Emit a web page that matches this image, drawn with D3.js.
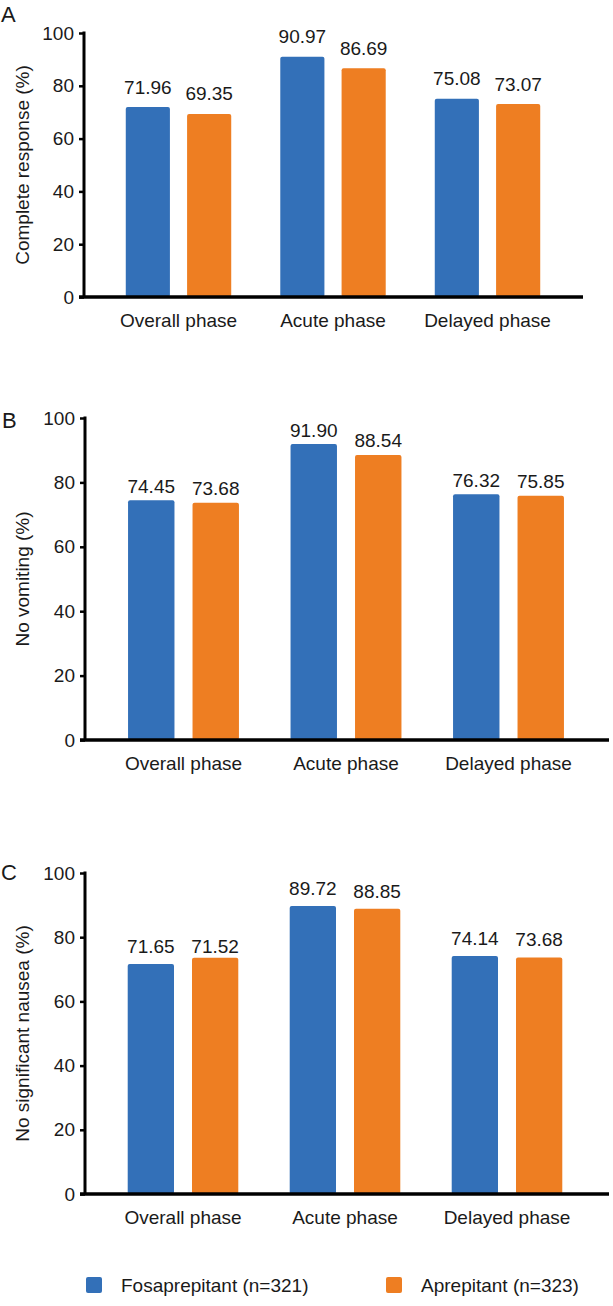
<!DOCTYPE html>
<html>
<head>
<meta charset="utf-8">
<script src="https://cdn.jsdelivr.net/npm/d3@7"></script>
<style>
  html, body { margin: 0; padding: 0; background: #fff; }
  svg { display: block; }
  text { font-family: "Liberation Sans", Arial, Helvetica, sans-serif; fill: #1a1a1a; }
</style>
</head>
<body>
<svg id="chart" width="613" height="1306"></svg>
<script>
// ---- data ----
const categories = ["Overall phase", "Acute phase", "Delayed phase"];
const seriesNames = ["Fosaprepitant (n=321)", "Aprepitant (n=323)"];
const yTicks = [0, 20, 40, 60, 80, 100];

// Panel A: complete response (%)
const crFosaprepitant = [71.96, 90.97, 75.08];
const crAprepitant = [69.35, 86.69, 73.07];
// Panel B: no vomiting (%)
const nvFosaprepitant = [74.45, 91.90, 76.32];
const nvAprepitant = [73.68, 88.54, 75.85];
// Panel C: no significant nausea (%) — bar heights as drawn, and printed labels
const nnFosaprepitant = [71.65, 89.72, 74.14];
const nnAprepitant = [73.6, 88.85, 73.68];
const nnFosaprepitantLabels = ["71.65", "89.72", "74.14"];
const nnAprepitantLabels = ["71.52", "88.85", "73.68"];

const colors = ["#3370b8", "#ee7e22"];

const panels = [
  { letter: "A", title: "Complete response (%)", values: [crFosaprepitant, crAprepitant],
    labels: [crFosaprepitant.map(v => v.toFixed(2)), crAprepitant.map(v => v.toFixed(2))],
    top: 33, bottom: 297, axisX: 84, xEnd: 583, groupRange: [101.25, 564.75], labelOff: 13.5,
    letterPos: [1, 22] },
  { letter: "B", title: "No vomiting (%)", values: [nvFosaprepitant, nvAprepitant],
    labels: [nvFosaprepitant.map(v => v.toFixed(2)), nvAprepitant.map(v => v.toFixed(2))],
    top: 418, bottom: 740, axisX: 85, xEnd: 609, groupRange: [102.25, 589.75], labelOff: 7.5,
    letterPos: [2, 428] },
  { letter: "C", title: "No significant nausea (%)", values: [nnFosaprepitant, nnAprepitant],
    labels: [nnFosaprepitantLabels, nnAprepitantLabels],
    top: 873, bottom: 1194, axisX: 85, xEnd: 609, groupRange: [102, 588], labelOff: 11,
    letterPos: [1, 880] }
];

const svg = d3.select("#chart");
const FS = 19;

panels.forEach(p => {
  const g = svg.append("g");
  const y = d3.scaleLinear().domain([0, 100]).range([p.bottom, p.top]);
  const x0 = d3.scaleBand().domain(categories).range(p.groupRange).padding(0);
  const x1 = d3.scaleBand().domain(seriesNames).range([0, x0.bandwidth()])
    .paddingInner(0.28).paddingOuter(0.4);

  // bars
  seriesNames.forEach((s, si) => {
    g.selectAll(null).data(categories).enter().append("rect")
      .attr("x", c => x0(c) + x1(s))
      .attr("y", (c, i) => y(p.values[si][i]))
      .attr("width", x1.bandwidth())
      .attr("height", (c, i) => y(0) - y(p.values[si][i]))
      .attr("rx", 2)
      .attr("fill", colors[si]);
    g.selectAll(null).data(categories).enter().append("text")
      .attr("x", c => x0(c) + x1(s) + x1.bandwidth() / 2)
      .attr("y", (c, i) => y(parseFloat(p.labels[si][i])) - p.labelOff)
      .attr("text-anchor", "middle")
      .attr("font-size", FS)
      .text((c, i) => p.labels[si][i]);
  });

  // y axis
  const yAxis = d3.axisLeft(y).tickValues(yTicks).tickSize(5).tickSizeOuter(0).tickPadding(5);
  const ya = g.append("g").attr("transform", `translate(${p.axisX},0)`).call(yAxis);
  ya.select(".domain").attr("stroke", "#000").attr("stroke-width", 3)
    .attr("d", `M0,${p.top - 1.5}V${p.bottom}`);
  ya.selectAll(".tick line").attr("stroke", "#000").attr("stroke-width", 2.5);
  ya.selectAll(".tick text").attr("font-size", FS).attr("fill", "#1a1a1a")
    .attr("font-family", '"Liberation Sans", Arial, sans-serif');

  // x axis line
  const xAxis = d3.axisBottom(x0).tickSize(0).tickPadding(0);
  const xa = g.append("g").attr("transform", `translate(0,${p.bottom})`).call(xAxis);
  xa.select(".domain").attr("stroke", "#000").attr("stroke-width", 3.5)
    .attr("d", `M${p.axisX - 5},0H${p.xEnd}`);
  xa.selectAll(".tick text").attr("font-size", FS).attr("fill", "#1a1a1a")
    .attr("font-family", '"Liberation Sans", Arial, sans-serif')
    .attr("dy", null).attr("y", 30);

  // y title
  g.append("text")
    .attr("transform", `translate(29,${(p.top + p.bottom) / 2}) rotate(-90)`)
    .attr("text-anchor", "middle")
    .attr("font-size", FS)
    .text(p.title);

  // panel letter
  g.append("text")
    .attr("x", p.letterPos[0]).attr("y", p.letterPos[1])
    .attr("font-size", 22)
    .text(p.letter);
});

// legend
const legend = svg.append("g");
const legendX = [86, 386];
seriesNames.forEach((s, i) => {
  legend.append("rect").attr("x", legendX[i]).attr("y", 1277).attr("width", 16).attr("height", 16)
    .attr("rx", 2).attr("fill", colors[i]);
  legend.append("text").attr("x", legendX[i] + 35).attr("y", 1292)
    .attr("font-size", FS).text(s);
});
</script>
</body>
</html>
